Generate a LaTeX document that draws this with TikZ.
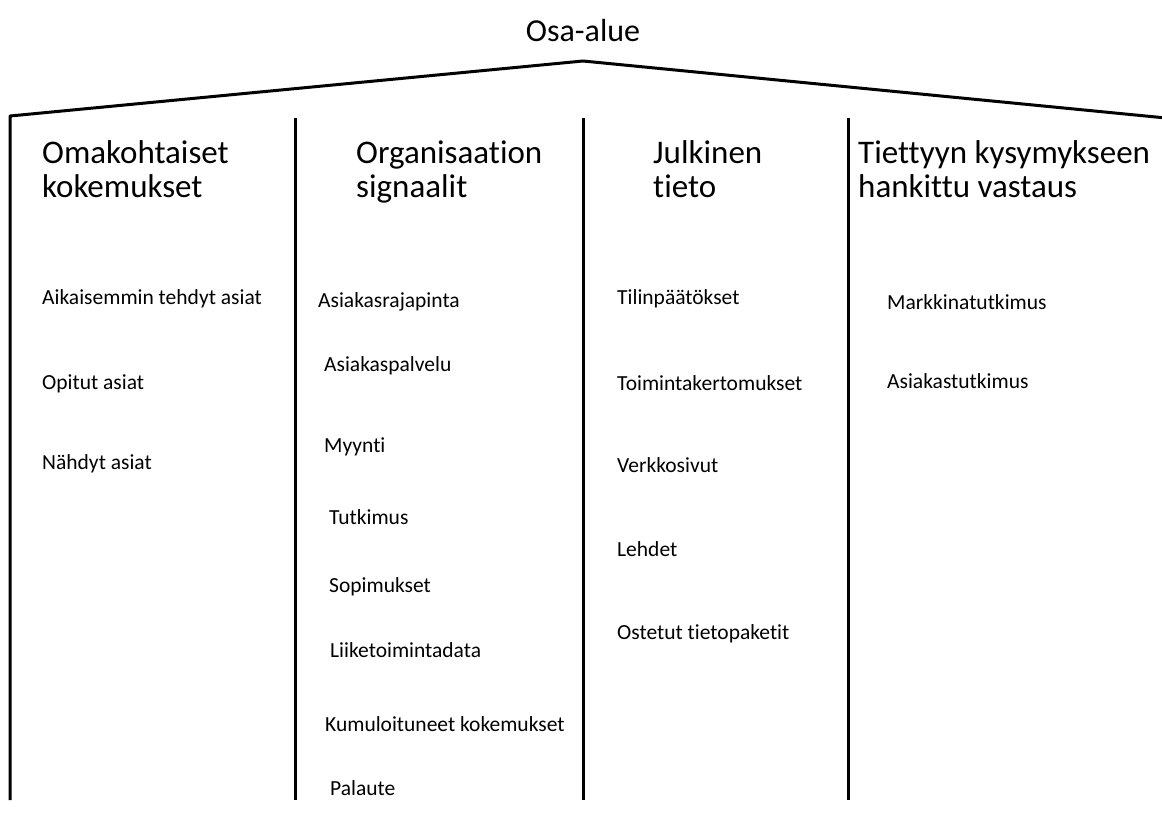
\documentclass[tikz,border=0pt]{standalone}
\usepackage{fontspec}
\setmainfont[Ligatures = NoCommon]{Carlito}

\begin{document}
\begin{tikzpicture}[x = 1pt, y = -1pt,
    item/.style = {anchor = base west, inner sep = 0pt, font = \fontsize{21.5}{26}\selectfont},
    head/.style = {anchor = base west, inner sep = 0pt, align = left, font = \fontsize{33}{34}\selectfont},
    wall/.style = {line width = 3pt}]
        \useasboundingbox (0,0) rectangle (1162,835);

        % roof and walls
        \coordinate (left) at (10,116);
        \coordinate (apex) at (583,61);
        \coordinate (right) at (1166,118);
        \draw[wall, line join = round] (10,800) -- (left) -- (apex) -- (right);
        \draw[wall] (295,118) -- (295,800);
        \draw[wall] (583,118) -- (583,800);
        \draw[wall] (848,118) -- (848,800);

        \node[anchor = base, inner sep = 0pt, font = \fontsize{32}{34}\selectfont] (title) at (583,41) {Osa-alue};

        % column headings (base = last line)
        \node[head] (own) at (42,197) {Omakohtaiset\\kokemukset};
        \node[head] (org) at (356,197) {Organisaation\\signaalit};
        \node[head] (pub) at (653,197) {Julkinen\\tieto};
        \node[head] (ask) at (858,197) {Tiettyyn kysymykseen\\hankittu vastaus};

        % omakohtaiset
        \node[item] (own1) at (42,304) {Aikaisemmin tehdyt asiat};
        \node[item] (own2) at (42,389) {Opitut asiat};
        \node[item] (own3) at (42,469) {Nähdyt asiat};

        % organisaatio
        \node[item] (org1) at (318,307) {Asiakasrajapinta};
        \node[item] (org2) at (324,371) {Asiakaspalvelu};
        \node[item] (org3) at (324,452) {Myynti};
        \node[item] (org4) at (329,524) {Tutkimus};
        \node[item] (org5) at (329,592) {Sopimukset};
        \node[item] (org6) at (330,657) {Liiketoimintadata};
        \node[item] (org7) at (325,731) {Kumuloituneet kokemukset};
        \node[item] (org8) at (330,795) {Palaute};

        % julkinen
        \node[item] (pub1) at (617,304) {Tilinpäätökset};
        \node[item] (pub2) at (617,390) {Toimintakertomukset};
        \node[item] (pub3) at (617,472) {Verkkosivut};
        \node[item] (pub4) at (617,556) {Lehdet};
        \node[item] (pub5) at (617,639) {Ostetut tietopaketit};

        % kysymys
        \node[item] (ask1) at (887,309) {Markkinatutkimus};
        \node[item] (ask2) at (887,388) {Asiakastutkimus};
      \end{tikzpicture}
\end{document}
